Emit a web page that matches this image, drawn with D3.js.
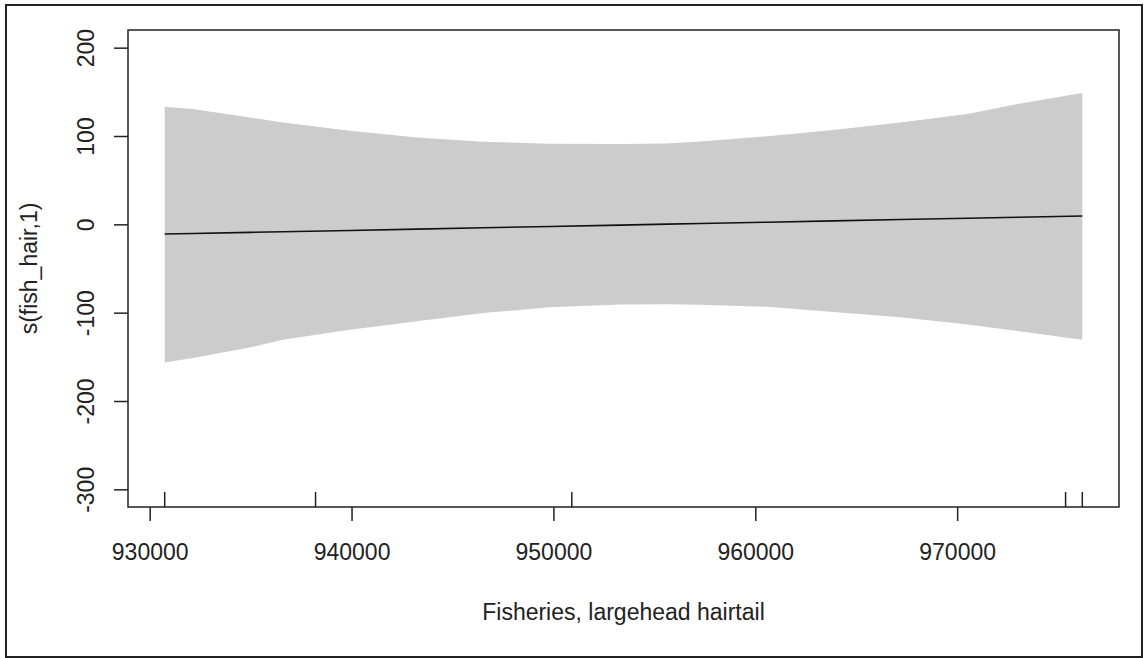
<!DOCTYPE html>
<html>
<head>
<meta charset="utf-8">
<script src="https://cdn.jsdelivr.net/npm/d3@7/dist/d3.min.js"></script>
<style>
  html, body { margin: 0; padding: 0; background: #fff; }
  svg { display: block; }
  text { font-family: "Liberation Sans", Arial, sans-serif; fill: #222; }
</style>
</head>
<body>
<svg id="chart" width="1144" height="658"></svg>
<script>
// Smooth term s(fish_hair,1): fitted effect with its confidence band
const fishHair = [930744, 932132, 934959, 936595, 939917, 943239, 946512, 949834,
                  953305, 955636, 957272, 960594, 963867, 967189, 970511, 972991, 976200];
const fitValues = [-11.0, -10.4, -9.1, -8.4, -6.9, -5.4, -3.9, -2.4,
                   -0.9, 0.2, 0.9, 2.4, 3.9, 5.4, 6.9, 8.0, 9.4];
const upperBand = [133.2, 130.6, 121.0, 115.3, 105.9, 98.3, 93.4, 91.2,
                   90.9, 91.5, 93.8, 99.6, 106.7, 115.3, 124.9, 136.2, 148.7];
const lowerBand = [-156.3, -151.2, -139.3, -130.6, -119.2, -109.8, -100.4, -93.9,
                   -90.8, -90.6, -91.0, -93.3, -99.2, -105.2, -113.5, -120.7, -130.6];
// Observed covariate values shown as a rug
const rugValues = [930744, 938217, 950911, 975372, 976200];
const xTicks = [930000, 940000, 950000, 960000, 970000];
const yTicks = [-300, -200, -100, 0, 100, 200];
const yLimits = [-300, 200];
const xLabel = "Fisheries, largehead hairtail";
const yLabel = "s(fish_hair,1)";

const svg = d3.select("#chart");
const box = { left: 128, top: 30, right: 1119, bottom: 507 };

// R-style 4% axis expansion
const xExt = d3.extent(rugValues);
const xPad = (xExt[1] - xExt[0]) * 0.04;
const yPad = (yLimits[1] - yLimits[0]) * 0.04;
const x = d3.scaleLinear().domain([xExt[0] - xPad, xExt[1] + xPad]).range([box.left, box.right]);
const y = d3.scaleLinear().domain([yLimits[0] - yPad, yLimits[1] + yPad]).range([box.bottom, box.top]);

// Outer frame
svg.append("rect")
  .attr("x", 6).attr("y", 5).attr("width", 1136).attr("height", 652)
  .attr("fill", "none").attr("stroke", "#222").attr("stroke-width", 2);

const rows = fishHair.map((v, i) => ({ x: v, fit: fitValues[i], lo: lowerBand[i], hi: upperBand[i] }));

// Confidence band
svg.append("path")
  .datum(rows)
  .attr("fill", "#cccccc")
  .attr("d", d3.area().x(d => x(d.x)).y0(d => y(d.lo)).y1(d => y(d.hi)));

// Fitted line
svg.append("path")
  .datum(rows)
  .attr("fill", "none")
  .attr("stroke", "#111")
  .attr("stroke-width", 1.6)
  .attr("d", d3.line().x(d => x(d.x)).y(d => y(d.fit)));

// Rug
svg.append("g").selectAll("line")
  .data(rugValues)
  .join("line")
  .attr("x1", d => x(d)).attr("x2", d => x(d))
  .attr("y1", box.bottom).attr("y2", box.bottom - 15)
  .attr("stroke", "#222").attr("stroke-width", 1.5);

// Plot box
svg.append("rect")
  .attr("x", box.left).attr("y", box.top)
  .attr("width", box.right - box.left).attr("height", box.bottom - box.top)
  .attr("fill", "none").attr("stroke", "#222").attr("stroke-width", 1.5);

// Plain ASCII hyphen for negatives, as base graphics prints them
const plainFormat = d => String(d);

// X axis
const gx = svg.append("g")
  .attr("transform", `translate(0,${box.bottom})`)
  .call(d3.axisBottom(x).tickValues(xTicks).tickSize(14).tickFormat(plainFormat));
gx.select(".domain").remove();
gx.selectAll(".tick line").attr("stroke", "#222").attr("stroke-width", 1.5);
gx.selectAll(".tick text")
  .attr("y", 53).attr("dy", 0)
  .attr("font-size", 23)
  .attr("font-family", "Liberation Sans, Arial, sans-serif")
  .attr("fill", "#222");

// Y axis
const gy = svg.append("g")
  .attr("transform", `translate(${box.left},0)`)
  .call(d3.axisLeft(y).tickValues(yTicks).tickSize(14).tickFormat(plainFormat));
gy.select(".domain").remove();
gy.selectAll(".tick line").attr("stroke", "#222").attr("stroke-width", 1.5);
gy.selectAll(".tick text")
  .attr("x", 0).attr("y", 0).attr("dy", 0)
  .attr("text-anchor", "middle")
  .attr("transform", "translate(-34,0) rotate(-90)")
  .attr("font-size", 23)
  .attr("font-family", "Liberation Sans, Arial, sans-serif")
  .attr("fill", "#222");

// Axis titles
svg.append("text")
  .attr("x", (box.left + box.right) / 2).attr("y", 620)
  .attr("text-anchor", "middle")
  .attr("font-size", 23)
  .text(xLabel);

svg.append("text")
  .attr("transform", `translate(37,${(box.top + box.bottom) / 2}) rotate(-90)`)
  .attr("text-anchor", "middle")
  .attr("font-size", 23)
  .text(yLabel);
</script>
</body>
</html>
